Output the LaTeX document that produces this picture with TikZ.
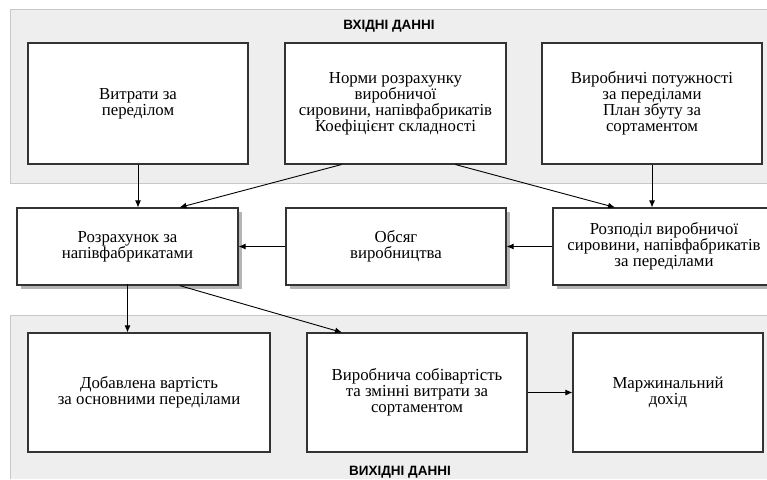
\documentclass[tikz,border=0pt]{standalone}
\usepackage{fontspec}
\setmainfont{Liberation Serif}
\newfontfamily\titlefont{Liberation Sans}
\usetikzlibrary{arrows.meta}
\definecolor{panelgray}{HTML}{EEEEEE}
\definecolor{panelline}{HTML}{C8C8C8}
\definecolor{boxline}{HTML}{333333}
\definecolor{shadowgray}{HTML}{B4B4B4}
\begin{document}
\begin{tikzpicture}[x=1pt,y=-1pt,
  box/.style={draw=boxline,line width=1.1pt,fill=white,align=center,
    font=\fontsize{16.8}{16}\selectfont,inner sep=0pt},
  conn/.style={draw=black,line width=0.9pt,-{Latex[length=7pt,width=6pt]}},
  paneltitle/.style={font=\titlefont\bfseries\fontsize{13.5}{15}\selectfont,inner sep=0pt}]
\useasboundingbox (0,0) rectangle (767,479);
\fill[white] (0,0) rectangle (767,479);
% panels
\fill[panelgray] (10,9) rectangle (767,183);
\draw[panelline,line width=0.8pt] (767,9) -- (10,9) -- (10,183) -- (767,183);
\fill[panelgray] (10,315) rectangle (767,479);
\draw[panelline,line width=0.8pt] (767,315) -- (10,315) -- (10,479);
\node[paneltitle,anchor=base] (tin) at (389,29) {ВХІДНІ ДАННІ};
\node[paneltitle,anchor=base] (tout) at (400,475) {ВИХІДНІ ДАННІ};
% shadows for middle row
\fill[shadowgray] (21,212) rectangle (242,289);
\fill[shadowgray] (290,212) rectangle (510,289);
\fill[shadowgray] (557,212) rectangle (779,289);
% top row
\node[box,minimum width=220pt,minimum height=121pt] (b1) at (138,103.5) {Витрати за\\переділом};
\node[box,minimum width=221pt,minimum height=121pt] (b2) at (395.5,103.5) {Норми розрахунку\\виробничої\\сировини, напівфабрикатів\\Коефіцієнт складності};
\node[box,minimum width=220pt,minimum height=121pt] (b3) at (652,103.5) {Виробничі потужності\\за переділами\\План збуту за\\сортаментом};
% middle row
\node[box,minimum width=221pt,minimum height=77pt] (b4) at (127.5,246.5) {Розрахунок за\\напівфабрикатами};
\node[box,minimum width=220pt,minimum height=77pt] (b5) at (396,246.5) {Обсяг\\виробництва};
\node[box,minimum width=222pt,minimum height=77pt] (b6) at (664,246.5) {Розподіл виробничої\\сировини, напівфабрикатів\\за переділами};
% bottom row
\node[box,minimum width=242pt,minimum height=119pt] (b7) at (149,392.5) {Добавлена вартість\\за основними переділами};
\node[box,minimum width=220pt,minimum height=119pt] (b8) at (417,392.5) {Виробнича собівартість\\та змінні витрати за\\сортаментом};
\node[box,minimum width=190pt,minimum height=119pt] (b9) at (668,392.5) {Маржинальний\\дохід};
% connectors
\draw[conn] (b1.south) -- (b1.south |- b4.north);
\draw[conn] ([xshift=-54pt]b2.south) -- ([xshift=52pt]b4.north);
\draw[conn] ([xshift=60pt]b2.south) -- ([xshift=-49pt]b6.north);
\draw[conn] (b3.south) -- (b3.south |- b6.north);
\draw[conn] (b6.west) -- (b5.east);
\draw[conn] (b5.west) -- (b4.east);
\draw[conn] (b7.north -| b4.south) ++(0,-48) coordinate (c1) -- (b7.north -| c1);
\draw[conn] ([xshift=52pt]b4.south) -- ([xshift=-75pt]b8.north);
\draw[conn] (b8.east) -- (b9.west);
\end{tikzpicture}
\end{document}
